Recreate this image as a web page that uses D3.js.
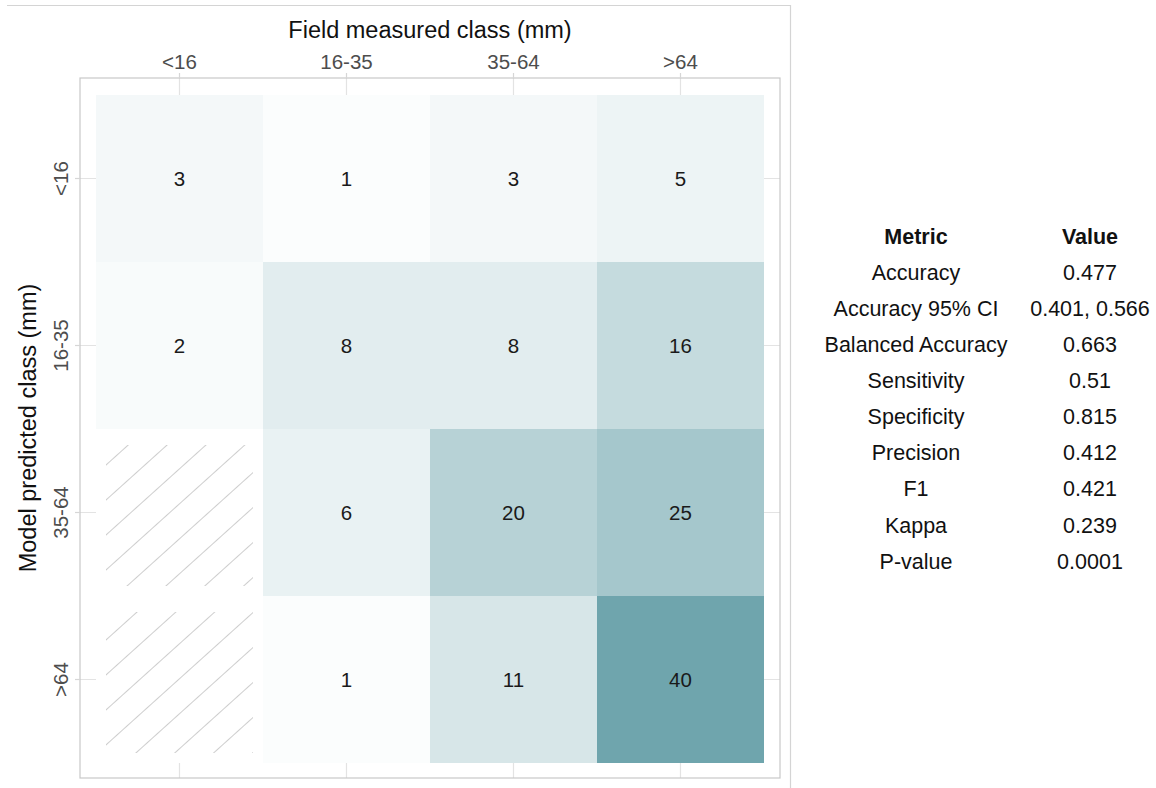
<!DOCTYPE html>
<html>
<head>
<meta charset="utf-8">
<script src="https://cdn.jsdelivr.net/npm/d3@7"></script>
<style>
  body { margin: 0; background: #fff; }
  svg text { font-family: "Liberation Sans", Arial, sans-serif; }
</style>
</head>
<body>
<div id="chart"></div>
<script>
// Confusion matrix data
const classes = ["<16", "16-35", "35-64", ">64"];
// rows = model predicted, columns = field measured
const counts = [
    [3, 1, 3, 5],
    [2, 8, 8, 16],
    [0, 6, 20, 25],
    [0, 1, 11, 40]
];
const metricNames = ["Accuracy", "Accuracy 95% CI", "Balanced Accuracy", "Sensitivity",
    "Specificity", "Precision", "F1", "Kappa", "P-value"];
const metricValues = ["0.477", "0.401, 0.566", "0.663", "0.51", "0.815", "0.412", "0.421", "0.239", "0.0001"];

const width = 1156, height = 788;
const svg = d3.select("#chart").append("svg")
    .attr("width", width)
    .attr("height", height);

// panel box
const panel = {left: 80, top: 78, right: 780, bottom: 778};

const x = d3.scaleBand().domain(classes).range([96, 764]);
const y = d3.scaleBand().domain(classes).range([95, 763]);
const color = d3.scaleLinear().domain([0, 40]).range(["#ffffff", "#6fa5ad"]);

// outer frame (top + right edges)
svg.append("path")
    .attr("d", "M7,5.5H790.5V788")
    .attr("fill", "none")
    .attr("stroke", "#d4d4d4")
    .attr("stroke-width", 1.2);

// hatch pattern for empty cells
const defs = svg.append("defs");
const pat = defs.append("pattern")
    .attr("id", "hatch")
    .attr("patternUnits", "userSpaceOnUse")
    .attr("width", 26).attr("height", 26)
    .attr("patternTransform", "rotate(-42)");
pat.append("line")
    .attr("x1", 0).attr("y1", 0.5).attr("x2", 26).attr("y2", 0.5)
    .attr("stroke", "#bdbdbd").attr("stroke-width", 1);

// gridlines
const grid = svg.append("g").attr("stroke", "#e3e3e3").attr("stroke-width", 1.2);
classes.forEach(c => {
    const cx = x(c) + x.bandwidth() / 2;
    const cy = y(c) + y.bandwidth() / 2;
    grid.append("line").attr("x1", cx).attr("x2", cx).attr("y1", panel.top).attr("y2", panel.bottom);
    grid.append("line").attr("y1", cy).attr("y2", cy).attr("x1", panel.left).attr("x2", panel.right);
});

// tiles
const cells = [];
counts.forEach((row, i) => row.forEach((v, j) => cells.push({pred: classes[i], field: classes[j], v})));

svg.append("g").selectAll("rect")
    .data(cells)
    .join("rect")
    .attr("x", d => x(d.field))
    .attr("y", d => y(d.pred))
    .attr("width", x.bandwidth())
    .attr("height", y.bandwidth())
    .attr("fill", d => color(d.v));

// hatch on zero cells
svg.append("g").selectAll("rect")
    .data(cells.filter(d => d.v === 0))
    .join("rect")
    .attr("x", d => x(d.field) + 10)
    .attr("y", d => y(d.pred) + 16)
    .attr("width", x.bandwidth() - 20)
    .attr("height", y.bandwidth() - 26)
    .attr("fill", "url(#hatch)")
    .attr("opacity", 0.75);

// cell labels
svg.append("g").selectAll("text")
    .data(cells.filter(d => d.v > 0))
    .join("text")
    .attr("x", d => x(d.field) + x.bandwidth() / 2)
    .attr("y", d => y(d.pred) + y.bandwidth() / 2)
    .attr("dy", "0.36em")
    .attr("text-anchor", "middle")
    .attr("font-size", 20.5)
    .attr("fill", "#1a1a1a")
    .text(d => d.v);

// panel border
svg.append("rect")
    .attr("x", panel.left).attr("y", panel.top)
    .attr("width", panel.right - panel.left)
    .attr("height", panel.bottom - panel.top)
    .attr("fill", "none")
    .attr("stroke", "#c8c8c8")
    .attr("stroke-width", 1.2);

// top axis
const xAxis = svg.append("g")
    .attr("transform", `translate(0,${panel.top})`)
    .call(d3.axisTop(x).tickSize(5).tickPadding(4));
xAxis.select(".domain").remove();
xAxis.selectAll(".tick line").attr("stroke", "#d6d6d6").attr("stroke-width", 1.2);
xAxis.selectAll(".tick text")
    .attr("font-size", 20.5)
    .attr("fill", "#4d4d4d")
    .style("font-family", "'Liberation Sans', Arial, sans-serif");

// left axis
const yAxis = svg.append("g")
    .attr("transform", `translate(${panel.left},0)`)
    .call(d3.axisLeft(y).tickSize(5).tickPadding(4));
yAxis.select(".domain").remove();
yAxis.selectAll(".tick line").attr("stroke", "#d6d6d6").attr("stroke-width", 1.2);
yAxis.selectAll(".tick text")
    .attr("font-size", 20.5)
    .attr("fill", "#4d4d4d")
    .attr("x", null).attr("dy", null)
    .attr("text-anchor", "middle")
    .attr("transform", "translate(-12,0) rotate(-90)")
    .style("font-family", "'Liberation Sans', Arial, sans-serif");

// axis titles
svg.append("text")
    .attr("x", (panel.left + panel.right) / 2)
    .attr("y", 38)
    .attr("text-anchor", "middle")
    .attr("font-size", 23.5)
    .attr("fill", "#111")
    .text("Field measured class (mm)");

svg.append("text")
    .attr("transform", `translate(36,${(panel.top + panel.bottom) / 2}) rotate(-90)`)
    .attr("text-anchor", "middle")
    .attr("font-size", 23.5)
    .attr("fill", "#111")
    .text("Model predicted class (mm)");

// metrics table
const table = svg.append("g").attr("font-size", 21.5).attr("fill", "#111");
const colX = [916, 1090];
const rowY = d3.scaleLinear().domain([0, 1]).range([236, 272.1]);
table.append("text").attr("x", colX[0]).attr("y", rowY(0)).attr("dy", "0.36em")
    .attr("text-anchor", "middle").attr("font-weight", "bold").text("Metric");
table.append("text").attr("x", colX[1]).attr("y", rowY(0)).attr("dy", "0.36em")
    .attr("text-anchor", "middle").attr("font-weight", "bold").text("Value");
metricNames.forEach((m, i) => {
    table.append("text").attr("x", colX[0]).attr("y", rowY(i + 1)).attr("dy", "0.36em")
        .attr("text-anchor", "middle").text(m);
    table.append("text").attr("x", colX[1]).attr("y", rowY(i + 1)).attr("dy", "0.36em")
        .attr("text-anchor", "middle").text(metricValues[i]);
});
</script>
</body>
</html>
